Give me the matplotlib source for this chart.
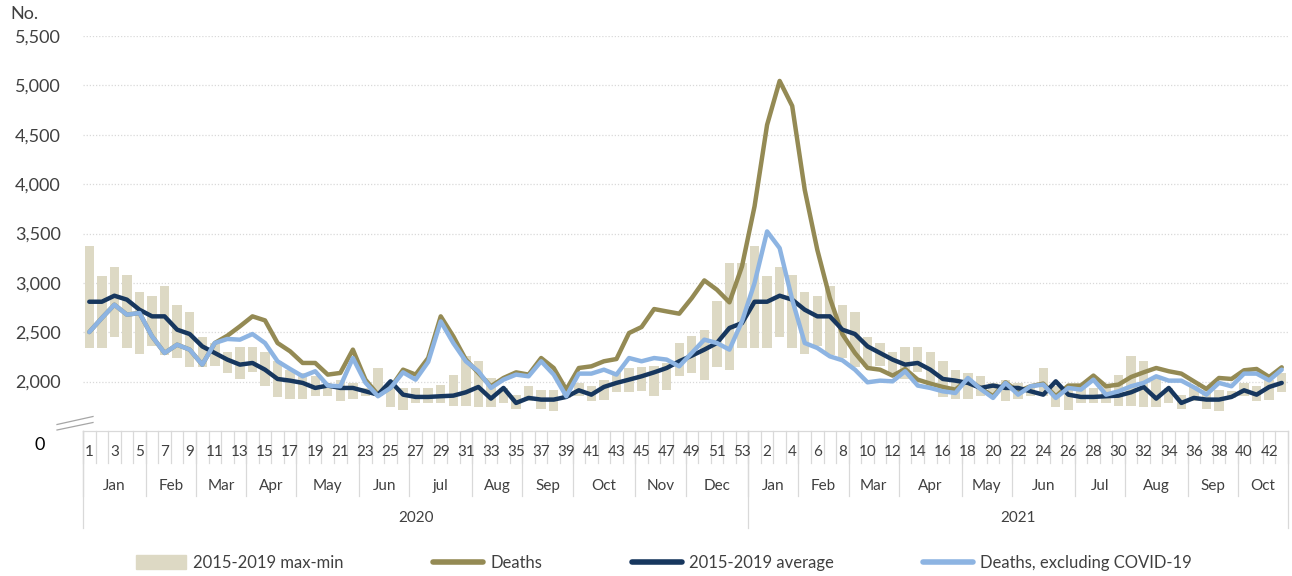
import matplotlib.pyplot as plt
import numpy as np
from matplotlib.lines import Line2D
from matplotlib.patches import Patch

plt.rcParams['font.family'] = ['Lato', 'DejaVu Sans']

# weekly deaths, 2020 (53 weeks) and 2021 (weeks 1-43)
deaths_2020 = [2502, 2644, 2779, 2678, 2695, 2459, 2290, 2374, 2324, 2172,
               2391, 2465, 2560, 2661, 2620, 2391, 2307, 2189, 2189, 2071,
               2088, 2324, 2020, 1868, 1936, 2121, 2071, 2239, 2661, 2459,
               2223, 2088, 1953, 2037, 2094, 2071, 2239, 2138, 1919, 2138,
               2155, 2206, 2229, 2492, 2553, 2735, 2711, 2688, 2846, 3025,
               2931, 2803, 3167]
deaths_2021 = [3774, 4600, 5045, 4792, 3942, 3335, 2846, 2480, 2290, 2138,
               2121, 2061, 2128, 2020, 1980, 1946, 1919, 2020, 1936, 1852,
               1993, 1902, 1953, 1980, 1852, 1960, 1960, 2061, 1953, 1970,
               2047, 2094, 2138, 2105, 2081, 2003, 1926, 2037, 2027, 2115,
               2128, 2047, 2145]

excl_2020 = [2502, 2644, 2779, 2678, 2695, 2459, 2290, 2374, 2324, 2172,
             2391, 2432, 2425, 2482, 2391, 2206, 2128, 2054, 2105, 1960,
             1953, 2239, 1990, 1852, 1936, 2094, 2020, 2200, 2610, 2391,
             2206, 2105, 1936, 2020, 2071, 2054, 2206, 2071, 1852, 2081,
             2081, 2121, 2071, 2239, 2206, 2239, 2223, 2155, 2290, 2425,
             2391, 2324, 2610]
excl_2021 = [2998, 3521, 3352, 2830, 2391, 2341, 2256, 2216, 2121, 1993,
             2010, 2003, 2105, 1960, 1936, 1902, 1885, 2037, 1926, 1835,
             1987, 1868, 1953, 1970, 1835, 1936, 1919, 2020, 1868, 1902,
             1953, 1987, 2054, 2010, 2010, 1943, 1868, 1987, 1953, 2081,
             2081, 2013, 2121]

# 2015-2019 baseline by week of year (weeks 1-53)
avg_week = [2809, 2809, 2870, 2830, 2728, 2661, 2661, 2526, 2482, 2357,
            2290, 2223, 2172, 2189, 2121, 2027, 2010, 1987, 1936, 1960,
            1936, 1936, 1902, 1868, 2003, 1868, 1845, 1845, 1852, 1858,
            1892, 1946, 1828, 1936, 1784, 1835, 1818, 1818, 1845, 1912,
            1868, 1946, 1987, 2020, 2054, 2094, 2138, 2206, 2263, 2324,
            2391, 2543, 2593]
max_week = [3369, 3066, 3160, 3082, 2910, 2870, 2971, 2779, 2701, 2452,
            2391, 2297, 2351, 2351, 2297, 2206, 2121, 2088, 2054, 1990,
            2020, 1987, 1936, 2138, 1953, 1936, 1936, 1936, 1970, 2071,
            2256, 2206, 2037, 1936, 1868, 1953, 1919, 1912, 1902, 1987,
            1953, 2020, 2088, 2138, 2145, 2162, 2189, 2391, 2465, 2526,
            2813, 3200, 3200]
min_week = [2341, 2341, 2452, 2341, 2283, 2357, 2273, 2239, 2145, 2145,
            2162, 2088, 2027, 2094, 1953, 1842, 1825, 1825, 1858, 1858,
            1801, 1825, 1852, 1852, 1744, 1710, 1784, 1784, 1784, 1757,
            1757, 1744, 1744, 1784, 1723, 1801, 1723, 1700, 1835, 1858,
            1801, 1818, 1892, 1892, 1902, 1852, 1919, 2054, 2088, 2020,
            2145, 2121, 2340]

months_2020 = ['Jan', 'Feb', 'Mar', 'Apr', 'May', 'Jun', 'jul', 'Aug', 'Sep', 'Oct', 'Nov', 'Dec']
mweeks_2020 = [5, 4, 4, 4, 5, 4, 5, 4, 4, 5, 4, 5]
months_2021 = ['Jan', 'Feb', 'Mar', 'Apr', 'May', 'Jun', 'Jul', 'Aug', 'Sep', 'Oct']
mweeks_2021 = [4, 4, 4, 5, 4, 5, 4, 5, 4, 4]
years = ['2020', '2021']

n20, n21 = len(deaths_2020), len(deaths_2021)
deaths = deaths_2020 + deaths_2021
excl = excl_2020 + excl_2021
avg = avg_week[:n20] + avg_week[:n21]
bmax = np.array(max_week[:n20] + max_week[:n21])
bmin = np.array(min_week[:n20] + min_week[:n21])
week_no = list(range(1, n20 + 1)) + list(range(1, n21 + 1))
x = np.arange(len(deaths))

W, H = 1292, 576
fig = plt.figure(figsize=(W / 100, H / 100), dpi=100)
ax = fig.add_axes([83 / W, 1 - 431 / H, (1288 - 83) / W, (431 - 36) / H])

ax.bar(x, bmax - bmin, bottom=bmin, width=0.75, color='#ddd9c4', zorder=2)
ax.plot(x, deaths, color='#948a54', lw=3.2, zorder=3, solid_joinstyle='round', solid_capstyle='round')
ax.plot(x, avg, color='#17375e', lw=3.2, zorder=4, solid_joinstyle='round', solid_capstyle='round')
ax.plot(x, excl, color='#8db4e2', lw=3.2, zorder=5, solid_joinstyle='round', solid_capstyle='round')

ax.set_xlim(-0.5, len(x) - 0.5)
ax.set_ylim(1500, 5500)
yt = list(range(2000, 5501, 500))
ax.set_yticks(yt)
ax.set_yticklabels([f'{v:,}' for v in yt])
ax.tick_params(axis='y', length=0, pad=16, labelsize=13, labelcolor='#404040')
ax.set_xticks([])
for s in ['top', 'right', 'left']:
    ax.spines[s].set_visible(False)
ax.spines['bottom'].set_color('#d9d9d9')
ax.spines['bottom'].set_linewidth(0.9)
ax.grid(axis='y', color='#d9d9d9', linestyle=(0, (1, 1.5)), lw=0.9)
ax.set_axisbelow(True)

# multi-level category axis
tr = ax.get_xaxis_transform()
def ay(py):
    return -(py - 431) / 395

grey = '#d9d9d9'
for b in range(len(x) + 1):
    ax.plot([b - 0.5, b - 0.5], [0, ay(463)], transform=tr, clip_on=False, color=grey, lw=0.9)
for i in range(0, len(x), 2):
    ax.text(i, ay(452), str(week_no[i]), transform=tr, ha='center', va='center',
            fontsize=11, color='#404040')

start = 0
for names, lens in [(months_2020, mweeks_2020), (months_2021, mweeks_2021)]:
    for name, n in zip(names, lens):
        ax.plot([start - 0.5, start - 0.5], [0, ay(496)], transform=tr, clip_on=False, color=grey, lw=0.9)
        ax.text(start + (n - 1) / 2, ay(486), name, transform=tr, ha='center', va='center',
                fontsize=11, color='#404040')
        start += n

ystart = 0
for yr, n in zip(years, [n20, n21]):
    ax.plot([ystart - 0.5, ystart - 0.5], [0, ay(528)], transform=tr, clip_on=False, color=grey, lw=0.9)
    ax.text(ystart + (n - 1) / 2, ay(518), yr, transform=tr, ha='center', va='center',
            fontsize=11, color='#404040')
    ystart += n
ax.plot([ystart - 0.5, ystart - 0.5], [0, ay(528)], transform=tr, clip_on=False, color=grey, lw=0.9)

# axis break and labels
for y0, y1 in [(430, 422.5), (424.5, 416.5)]:
    fig.add_artist(Line2D([57 / W, 93 / W], [1 - y0 / H, 1 - y1 / H], transform=fig.transFigure,
                          color='#a6a6a6', lw=0.9))
fig.text(40 / W, 1 - 445 / H, '0', ha='center', va='center', fontsize=13, color='#000000')
fig.text(10 / W, 1 - 14 / H, 'No.', ha='left', va='center', fontsize=13, color='#404040')

handles = [Patch(color='#ddd9c4'),
           Line2D([], [], color='#948a54', lw=4, solid_capstyle='round'),
           Line2D([], [], color='#17375e', lw=4, solid_capstyle='round'),
           Line2D([], [], color='#8db4e2', lw=4, solid_capstyle='round')]
labels = ['2015-2019 max-min', 'Deaths', '2015-2019 average', 'Deaths, excluding COVID-19']
leg = fig.legend(handles, labels, loc='center', bbox_to_anchor=(664 / W, 1 - 563 / H), ncol=4,
                 frameon=False, fontsize=12, handlelength=3.0, handleheight=0.9,
                 handletextpad=0.4, columnspacing=5.4)
for t in leg.get_texts():
    t.set_color('#404040')

fig.savefig('out.png', dpi=100)
